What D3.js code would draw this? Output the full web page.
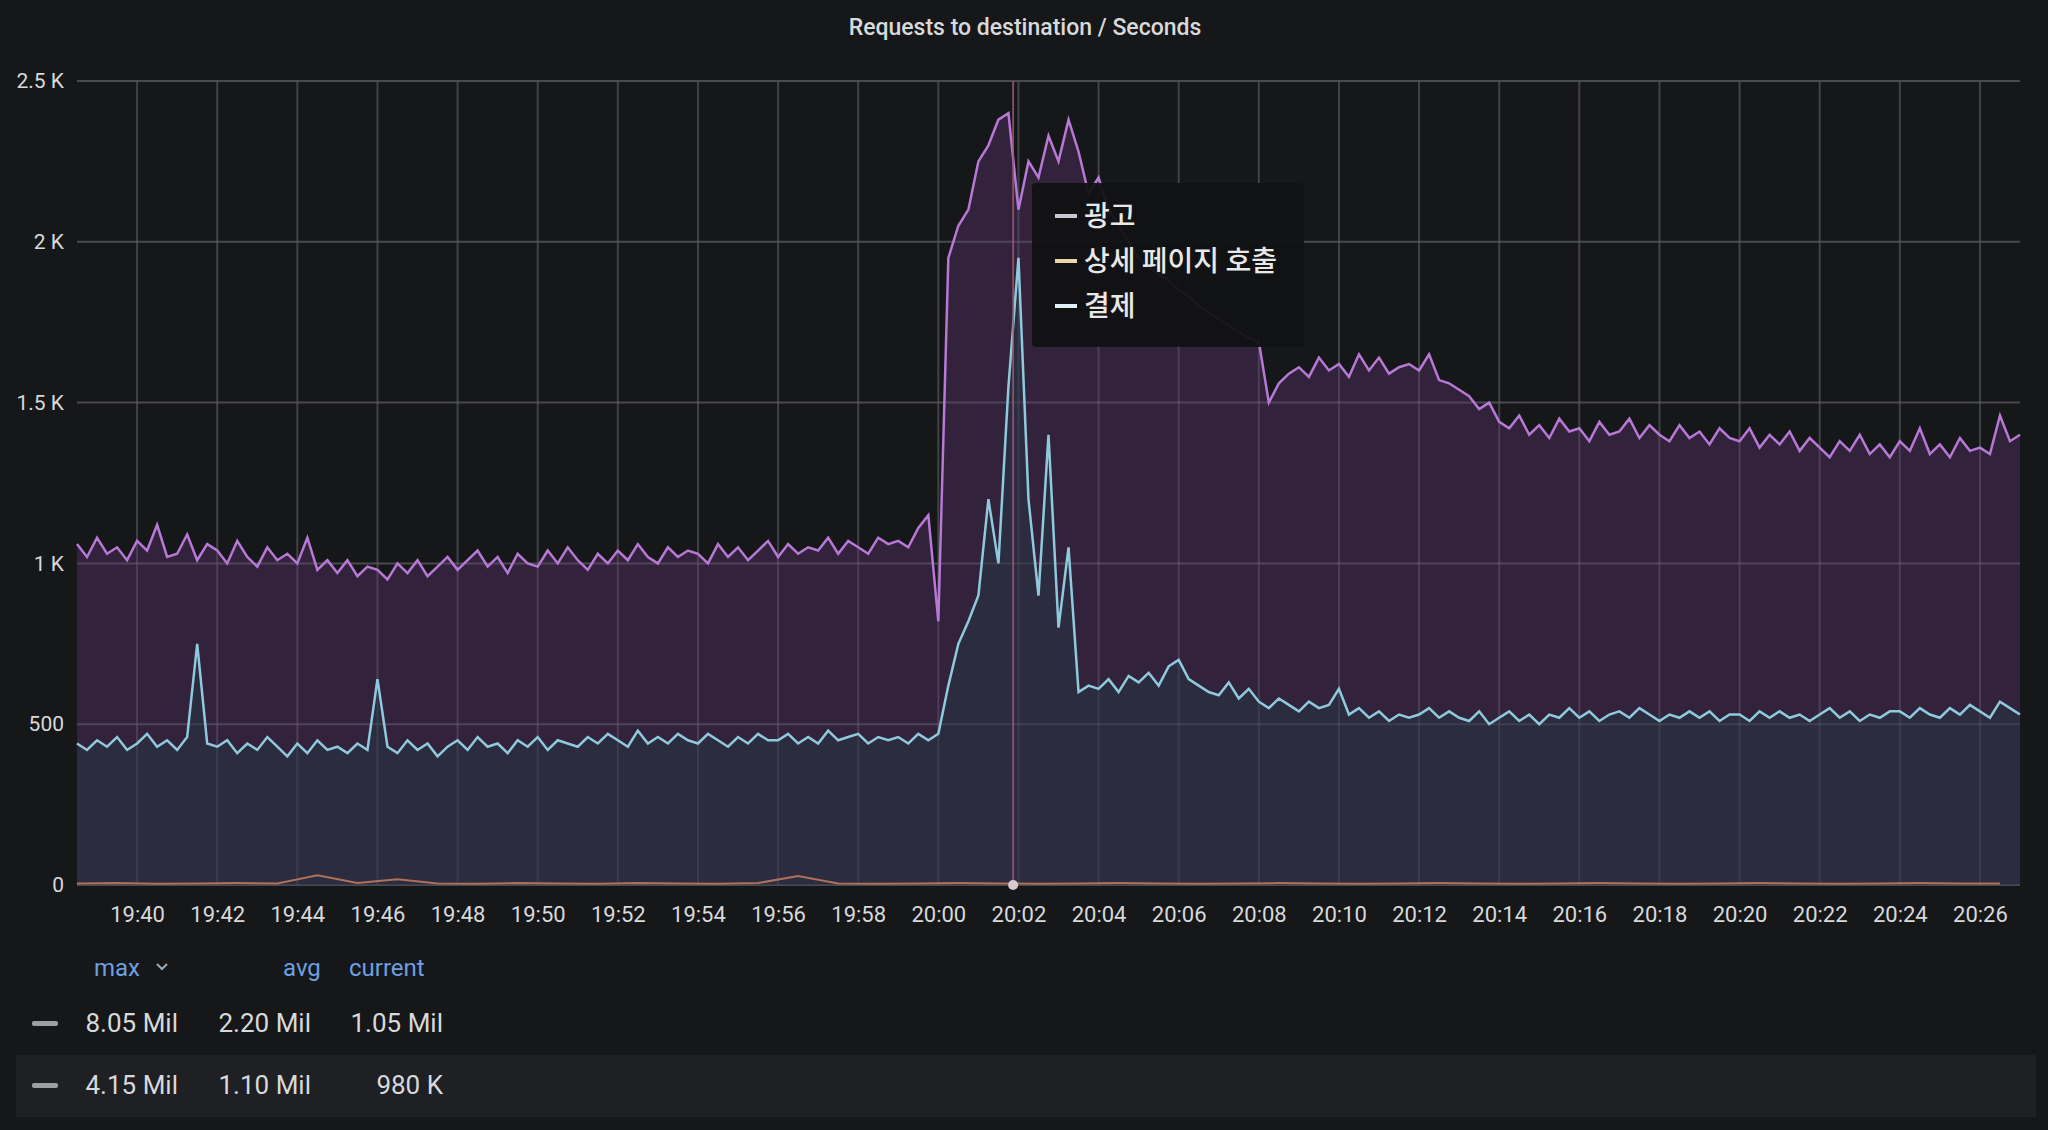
<!DOCTYPE html>
<html><head><meta charset="utf-8">
<script src="https://cdn.jsdelivr.net/npm/d3@7"></script>
<style>body{margin:0;background:#161719;}svg{display:block;}</style>
</head><body>
<svg id="c" width="2048" height="1130"></svg>
<script>
const title = "Requests to destination / Seconds";
const seriesNames = ["광고", "상세 페이지 호출", "결제"];
const startTime = "2024-01-01T19:38:30";
const stepSeconds = 15;
const purple = [1060,1020,
1080,1030,1050,1010, 1070,1040,1120,1020, 1030,1090,1010,1060, 1040,1000,1070,1020,
990,1050,1010,1030, 1000,1080,980,1010, 970,1010,960,990, 980,950,1000,970,
1010,960,990,1020, 980,1010,1040,990, 1020,970,1030,1000, 990,1040,1000,1050,
1010,980,1030,1000, 1040,1010,1060,1020, 1000,1050,1020,1040, 1030,1000,1060,1020,
1050,1010,1040,1070, 1020,1060,1030,1050, 1040,1080,1030,1070, 1050,1030,1080,1060,
1070,1050,1110,1150,
820,1950,2050,2100, 2250,2300,2380,2400, 2100,2250,2200,2330, 2250,2380,2280,2150,
2200,2100,2050,2000, 1950,1920,1900,1880, 1850,1830,1800,1780, 1760,1740,1720,1700,
1690,1500,1560,1590, 1610,1580,1640,1600, 1620,1580,1650,1600, 1640,1590,1610,1620,
1600,1650,1570,1560, 1540,1520,1480,1500, 1440,1420,1460,1400, 1430,1390,1450,1410,
1420,1380,1440,1400, 1410,1450,1390,1430, 1400,1380,1430,1390, 1410,1370,1420,1390,
1380,1420,1360,1400, 1370,1410,1350,1390, 1360,1330,1380,1350, 1400,1340,1370,1330,
1380,1350,1420,1340, 1370,1330,1390,1350, 1360,1340,1460,1380, 1400];
const cyan = [440,420,
450,430,460,420, 440,470,430,450, 420,460,750,440, 430,450,410,440,
420,460,430,400, 440,410,450,420, 430,410,440,420, 640,430,410,450,
420,440,400,430, 450,420,460,430, 440,410,450,430, 460,420,450,440,
430,460,440,470, 450,430,480,440, 460,440,470,450, 440,470,450,430,
460,440,470,450, 450,470,440,460, 440,480,450,460, 470,440,460,450,
460,440,470,450,
470,620,750,820, 900,1200,1000,1550, 1950,1200,900,1400, 800,1050,600,620,
610,640,600,650, 630,660,620,680, 700,640,620,600, 590,630,580,610,
570,550,580,560, 540,570,550,560, 610,530,550,520, 540,510,530,520,
530,550,520,540, 520,510,540,500, 520,540,510,530, 500,530,520,550,
520,540,510,530, 540,520,550,530, 510,530,520,540, 520,540,510,530,
530,510,540,520, 540,520,530,510, 530,550,520,540, 510,530,520,540,
540,520,550,530, 520,550,530,560, 540,520,570,550, 530];
// orange series, one point per minute from 19:38:30
const orange = [5,6,4,5,6,5,30,6,18,5,4,6,5,4,6,5,4,6,28,5,4,5,6,5,4,5,6,5,4,5,6,5,4,5,6,5,4,5,6,5,4,5,6,5,4,5,6,5,5];
const yTicks = [0,500,1000,1500,2000,2500];
const yTickLabels = ["0","500","1 K","1.5 K","2 K","2.5 K"];
const legendHeaders = ["max","avg","current"];
const legendRows = [["8.05 Mil","2.20 Mil","1.05 Mil"],["4.15 Mil","1.10 Mil","980 K"]];
const hoverTime = "2024-01-01T20:01:52";

const svg = d3.select("#c");
const W=2048,H=1130, L=77, R=2020, T=81, B=885;
const t0 = new Date(startTime);
const tAt = (i,step)=> new Date(t0.getTime()+i*step*1000);
const x = d3.scaleTime().domain([t0, new Date("2024-01-01T20:27:00")]).range([L,R]);
const y = d3.scaleLinear().domain([0,2500]).range([B,T]);
const font = "Roboto, 'Noto Sans CJK KR', sans-serif";

svg.append("rect").attr("width",W).attr("height",H).attr("fill","#161719");
svg.append("text").attr("x",1025).attr("y",35).attr("text-anchor","middle")
  .attr("fill","#d8d9da").attr("font-family",font).attr("font-size",23).attr("font-weight",500).text(title);

// grid
const xt = d3.timeMinute.every(2).range(new Date("2024-01-01T19:40:00"), new Date("2024-01-01T20:27:00"));
svg.append("g").selectAll("line").data(xt).join("line")
  .attr("x1",d=>x(d)).attr("x2",d=>x(d)).attr("y1",T).attr("y2",B).attr("stroke","#34353b").attr("stroke-width",2);
svg.append("g").selectAll("line").data(yTicks).join("line")
  .attr("x1",L).attr("x2",R).attr("y1",d=>y(d)).attr("y2",d=>y(d)).attr("stroke","#3a3b41").attr("stroke-width",2);

// areas
const area = d3.area().x((d,i)=>x(tAt(i,stepSeconds))).y0(B).y1(d=>y(d)).curve(d3.curveLinear);
const line = d3.line().x((d,i)=>x(tAt(i,stepSeconds))).y(d=>y(d));
svg.append("path").datum(purple).attr("d",area).attr("fill","#4a2c5a").attr("fill-opacity",0.55);
svg.append("path").datum(cyan).attr("d",area).attr("fill","#2a2d40").attr("fill-opacity",0.9);
// regrid over fills faintly
svg.append("g").selectAll("line").data(xt).join("line")
  .attr("x1",d=>x(d)).attr("x2",d=>x(d)).attr("y1",T).attr("y2",B).attr("stroke","#ffffff").attr("stroke-opacity",0.07).attr("stroke-width",2);
svg.append("g").selectAll("line").data(yTicks).join("line")
  .attr("x1",L).attr("x2",R).attr("y1",d=>y(d)).attr("y2",d=>y(d)).attr("stroke","#ffffff").attr("stroke-opacity",0.08).attr("stroke-width",2);

svg.append("path").datum(purple).attr("d",line).attr("fill","none").attr("stroke","#b778d6").attr("stroke-width",2.5);
svg.append("path").datum(cyan).attr("d",line).attr("fill","none").attr("stroke","#8fc9dc").attr("stroke-width",2.5);
const lineO = d3.line().x((d,i)=>x(tAt(i,60))).y(d=>y(d));
svg.append("path").datum(orange).attr("d",lineO).attr("fill","none").attr("stroke","#b0705a").attr("stroke-width",2);

// hover line
const hx = x(new Date(hoverTime));
svg.append("line").attr("x1",hx).attr("x2",hx).attr("y1",T).attr("y2",B).attr("stroke","#a05a6e").attr("stroke-width",1.5);
svg.append("circle").attr("cx",hx).attr("cy",B).attr("r",5).attr("fill","#d8c8d0");

// axes
const ya = svg.append("g").attr("transform",`translate(${L-10},0)`)
  .call(d3.axisLeft(y).tickValues(yTicks).tickFormat((d,i)=>yTickLabels[i]).tickSize(0));
ya.select(".domain").remove();
ya.selectAll("text").attr("fill","#d8d9da").attr("font-size",21).attr("font-family",font);
const xa = svg.append("g").attr("transform",`translate(0,${B+8})`)
  .call(d3.axisBottom(x).tickValues(xt).tickFormat(d3.timeFormat("%H:%M")).tickSize(0));
xa.select(".domain").remove();
xa.selectAll("text").attr("fill","#d8d9da").attr("font-size",22).attr("font-family",font).attr("dy","1.2em");

// tooltip
const tip = svg.append("g");
tip.append("rect").attr("x",1032).attr("y",183).attr("width",272).attr("height",164).attr("rx",4).attr("fill","#111213").attr("fill-opacity",0.95);
const tipColors = ["#c8c8d0","#e8d8a8","#e0f0f8"];
seriesNames.forEach((n,i)=>{
  const yy = 217 + i*45;
  tip.append("rect").attr("x",1055).attr("y",yy-3).attr("width",22).attr("height",4).attr("fill",tipColors[i]);
  tip.append("text").attr("x",1084).attr("y",yy+9).attr("fill","#e8e8e8").attr("font-size",28)
    .attr("font-family","'Noto Sans CJK KR', sans-serif").attr("font-weight",500).text(n);
});

// legend
svg.append("rect").attr("x",16).attr("y",1055).attr("width",2020).attr("height",62).attr("fill","#1f2024");
const hx2 = [94, 283, 393];
svg.append("text").attr("x",94).attr("y",976).attr("fill","#6e9fe0").attr("font-size",24).attr("font-family",font).text("max");
svg.append("path").attr("d","M157,964 l5,5 l5,-5").attr("fill","none").attr("stroke","#9ab").attr("stroke-width",2);
svg.append("text").attr("x",283).attr("y",976).attr("fill","#6e9fe0").attr("font-size",24).attr("font-family",font).text("avg");
svg.append("text").attr("x",349).attr("y",976).attr("fill","#6e9fe0").attr("font-size",24).attr("font-family",font).text("current");
const colsRight = [178, 311, 443];
legendRows.forEach((r,ri)=>{
  const yy = ri===0?1032:1094;
  svg.append("rect").attr("x",32).attr("y",yy-11).attr("width",26).attr("height",5).attr("rx",2).attr("fill","#9aa0a0");
  r.forEach((v,ci)=>{
    svg.append("text").attr("x",colsRight[ci]).attr("y",yy).attr("text-anchor","end").attr("fill","#d8d9da")
      .attr("font-size",26).attr("font-family",font).text(v);
  });
});
</script>
</body></html>
